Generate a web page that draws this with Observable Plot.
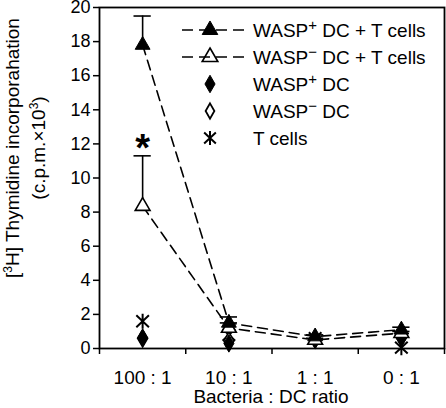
<!DOCTYPE html>
<html>
<head>
<meta charset="utf-8">
<script src="https://cdn.jsdelivr.net/npm/d3@7"></script>
<script src="https://cdn.jsdelivr.net/npm/@observablehq/plot@0.6"></script>
<style>
  html, body { margin: 0; padding: 0; background: white; }
  svg { display: block; }
</style>
</head>
<body>
<div id="chart"></div>
<script>
// ---- data ----
const categories = ["100 : 1", "10 : 1", "1 : 1", "0 : 1"];
const waspPlusDCT = [17.8, 1.5, 0.7, 1.1];
const waspPlusDCTErr = [1.7, 0.35, 0.1, 0.15];
const waspMinusDCT = [8.35, 1.2, 0.5, 0.9];
const waspMinusDCTErr = [2.95, 0.3, 0.1, 0.1];
const waspPlusDC = [0.62, 0.3, 0.5, 0.6];
const waspMinusDC = [0.6, 0.45, 0.55, 0.65];
const tCells = [1.6, 0.8, 0.6, 0.05];
const significance = [{cat: 0, value: 12.1, mark: "*"}];
const yTicks = [0, 2, 4, 6, 8, 10, 12, 14, 16, 18, 20];
const legendLabels = [
  ["WASP", "+", " DC + T cells"],
  ["WASP", "\u2212", " DC + T cells"],
  ["WASP", "+", " DC"],
  ["WASP", "\u2212", " DC"],
  ["T cells", "", ""]
];
const xTitle = "Bacteria : DC ratio";

// ---- derived tables ----
const pos = categories.map((c, i) => i + 1);
const bounds = [0.5, ...pos.map(p => p + 0.5)];
const rows = categories.map((c, i) => ({
  x: pos[i],
  pT: waspPlusDCT[i], pTe: waspPlusDCT[i] + waspPlusDCTErr[i],
  mT: waspMinusDCT[i], mTe: waspMinusDCT[i] + waspMinusDCTErr[i],
  pD: waspPlusDC[i], mD: waspMinusDC[i], t: tCells[i]
}));

const FONT = "'Liberation Sans', Arial, Helvetica, sans-serif";

// custom T-cell marker: vertical bar + X
const starX = {
  draw(ctx, size) {
    const r = Math.sqrt(size / Math.PI);
    ctx.moveTo(0, -r * 1.08); ctx.lineTo(0, r * 1.08);
    ctx.moveTo(-r * 0.9, -r * 0.85); ctx.lineTo(r * 0.9, r * 0.85);
    ctx.moveTo(r * 0.9, -r * 0.85); ctx.lineTo(-r * 0.9, r * 0.85);
  }
};

const TRI_R = 5.5, DIA_R = 5.3, STAR_R = 7;
const capHalf = 0.1;

const chart = Plot.plot({
  width: 446, height: 408,
  marginLeft: 99, marginRight: 2, marginTop: 7, marginBottom: 60,
  style: {fontFamily: FONT, fontSize: "18px", color: "black", background: "white", overflow: "visible"},
  x: {domain: [0.5, 4.5], axis: null},
  y: {domain: [0, 20], axis: null},
  marks: [
    Plot.axisY({ticks: yTicks, tickSize: 6, tickPadding: 3, fontSize: 18, label: null, strokeWidth: 1.5}),
    Plot.axisX({ticks: bounds, tickSize: 6, tickFormat: () => "", label: null, strokeWidth: 1.5}),
    Plot.axisX({ticks: pos, tickSize: 0, tickPadding: 22, fontSize: 19, tickFormat: d => categories[d - 1], label: null}),
    Plot.frame({stroke: "black", strokeWidth: 1.8}),
    // dashed lines
    Plot.line(rows, {x: "x", y: "pT", stroke: "black", strokeWidth: 1.6, strokeDasharray: "10,6"}),
    Plot.line(rows, {x: "x", y: "mT", stroke: "black", strokeWidth: 1.6, strokeDasharray: "10,6"}),
    // error bars
    Plot.ruleX(rows, {x: "x", y1: "pT", y2: "pTe", stroke: "black", strokeWidth: 1.6}),
    Plot.ruleX(rows, {x: "x", y1: "mT", y2: "mTe", stroke: "black", strokeWidth: 1.6}),
    Plot.ruleY(rows, {y: "pTe", x1: d => d.x - capHalf, x2: d => d.x + capHalf, stroke: "black", strokeWidth: 1.6}),
    Plot.ruleY(rows, {y: "mTe", x1: d => d.x - capHalf, x2: d => d.x + capHalf, stroke: "black", strokeWidth: 1.6}),
    // markers
    Plot.dot(rows, {x: "x", y: "t", symbol: starX, r: STAR_R, stroke: "black", strokeWidth: 2, fill: "none"}),
    Plot.dot(rows, {x: "x", y: "mD", symbol: "diamond", r: DIA_R, fill: "white", stroke: "black", strokeWidth: 1.6}),
    Plot.dot(rows, {x: "x", y: "pD", symbol: "diamond", r: DIA_R, fill: "black", stroke: "black", strokeWidth: 1}),
    Plot.dot(rows, {x: "x", y: "mT", symbol: "triangle", r: TRI_R, fill: "white", stroke: "black", strokeWidth: 1.6}),
    Plot.dot(rows, {x: "x", y: "pT", symbol: "triangle", r: TRI_R, fill: "black", stroke: "black", strokeWidth: 1}),
    // significance
    Plot.text(significance, {x: d => pos[d.cat], y: "value", text: "mark", fontSize: 38, fontWeight: "bold", dy: 7})
  ]
});

document.getElementById("chart").appendChild(chart);

// ---- titles & legend (layout) ----
const svg = d3.select(chart);
svg.selectAll("text").attr("fill", "black");

// x title
svg.append("text")
  .attr("x", 271).attr("y", 403)
  .attr("text-anchor", "middle")
  .attr("font-family", FONT).attr("font-size", 19)
  .text(xTitle);

// y title (two lines)
const yt = svg.append("g").attr("transform", "rotate(-90)")
  .attr("font-family", FONT).attr("font-size", 19).attr("text-anchor", "middle");
const l1 = yt.append("text").attr("x", -148).attr("y", 19);
l1.append("tspan").text("[");
l1.append("tspan").attr("dy", -7).attr("font-size", 12).text("3");
l1.append("tspan").attr("dy", 7).text("H] Thymidine incorporahation");
const l2 = yt.append("text").attr("x", -148).attr("y", 45);
l2.append("tspan").text("(c.p.m.\u00d710");
l2.append("tspan").attr("dy", -7).attr("font-size", 12).text("3");
l2.append("tspan").attr("dy", 7).text(")");

// legend
const legendSymbols = [
  {type: d3.symbolTriangle, r: 5.8, fill: "black", sw: 1, line: true},
  {type: d3.symbolTriangle, r: 5.8, fill: "none", sw: 1.6, line: true},
  {type: d3.symbolDiamond, r: DIA_R, fill: "black", sw: 1, line: false},
  {type: d3.symbolDiamond, r: 4.6, fill: "white", sw: 1.8, line: false},
  {type: starX, r: 6.5, fill: "none", sw: 2, line: false}
];
const lg = svg.append("g").attr("font-family", FONT).attr("font-size", 19).attr("text-anchor", "start");
legendLabels.forEach((lab, i) => {
  const cy = 30 + i * 27;
  const g = lg.append("g").attr("transform", `translate(0,${cy})`);
  const s = legendSymbols[i];
  if (s.line) {
    g.append("line").attr("x1", 182).attr("x2", 244).attr("y1", 0).attr("y2", 0)
      .attr("stroke", "black").attr("stroke-width", 1.6).attr("stroke-dasharray", "11,6");
  }
  g.append("path")
    .attr("transform", "translate(210,0)")
    .attr("d", d3.symbol(s.type, Math.PI * s.r * s.r)())
    .attr("fill", s.fill).attr("stroke", "black").attr("stroke-width", s.sw);
  const t = g.append("text").attr("x", 253).attr("y", 7).attr("fill", "black").attr("text-anchor", "start");
  t.append("tspan").text(lab[0]);
  if (lab[1]) {
    t.append("tspan").attr("dy", -7).attr("font-size", 15).text(lab[1]);
    t.append("tspan").attr("dy", 7).text(lab[2]);
  }
});
</script>
</body>
</html>
